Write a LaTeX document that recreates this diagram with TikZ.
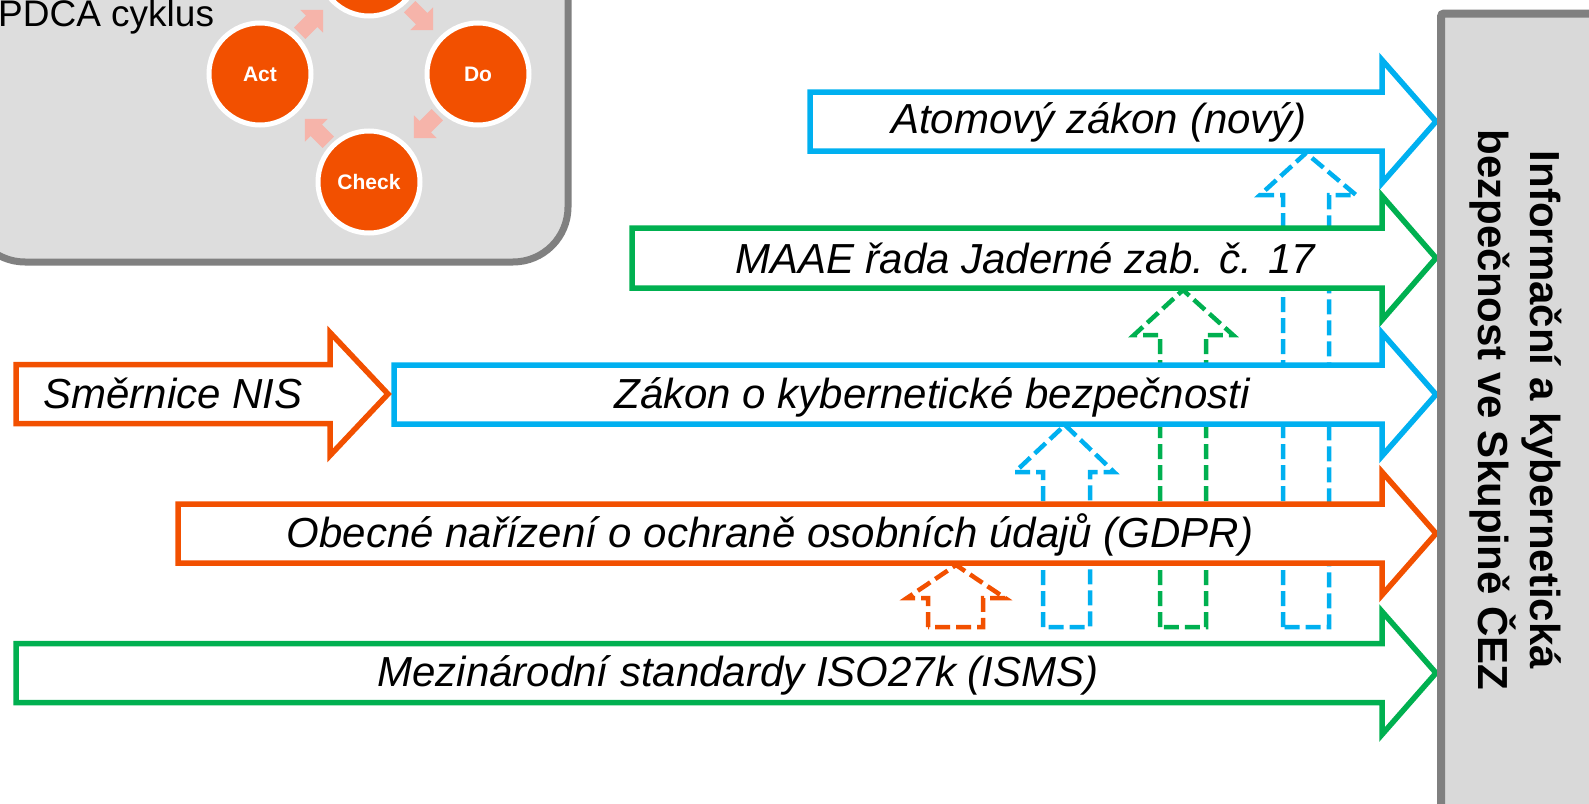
\documentclass[tikz,border=0pt]{standalone}
\usepackage{fontspec}
\setmainfont{Liberation Sans}

\definecolor{cezorange}{RGB}{242,80,0}
\definecolor{cezblue}{RGB}{0,176,240}
\definecolor{cezgreen}{RGB}{0,176,80}
\definecolor{cycpink}{RGB}{246,180,170}
\definecolor{panelgray}{RGB}{221,221,221}
\definecolor{boxgray}{RGB}{217,217,217}
\definecolor{edgegray}{RGB}{128,128,128}

\begin{document}
\begin{tikzpicture}[
  x = 1pt, y = 1pt,            % one unit = one pixel of the slide
  line join = miter            % sharp corners on the arrows
  ]

  \tikzstyle{Law}=[      % Defines style for the big law arrows
  fill = white,
  line width = 5.5pt
  ]

  \tikzstyle{Up}=[       % Defines style for the dashed up arrows
  line width = 4.5pt,
  dash pattern = on 15pt off 6pt
  ]

  \tikzstyle{Lbl}=[      % Text on a law arrow
  anchor = base,
  inner sep = 0pt,
  font = \fontsize{42}{50}\selectfont\itshape
  ]

  \tikzstyle{Phase}=[    % Defines style for the PDCA circles
  circle,
  fill = cezorange,
  draw = white,
  line width = 5pt,
  minimum size = 102pt,
  text = white,
  font = \fontsize{21}{25}\selectfont\bfseries
  ]

  \tikzstyle{Title}=[    % text in the grey box
  rotate = -90,
  anchor = base,
  inner sep = 0pt,
  font = \fontsize{42}{50}\selectfont\bfseries
  ]

  % small arrow between two circles, pointing along +x before rotation
  \tikzset{turn/.pic={
    \fill[cycpink] (-16,-8) -- (1,-8) -- (1,-16) -- (17,0) -- (1,16) -- (1,8) -- (-16,8) -- cycle;
  }}

  \useasboundingbox (0,0) rectangle (1589,-803);
  \clip (0,0) rectangle (1589,-803);

  % PDCA panel
  \draw[fill = panelgray, draw = edgegray, line width = 7pt, rounded corners = 55pt]
    (-30,60) rectangle (568,-262);
  \node (pdca) [anchor = base west, inner sep = 0pt, font = \fontsize{37}{40}\selectfont]
    at (-2,-27) {PDCA cyklus};

  \node[Phase] (plan) at (369,35) {};
  \node[Phase] (act) at (260,-74) {Act};
  \node[Phase] (do) at (478,-74) {Do};
  \node[Phase] (check) at (369,-182) {Check};

  \pic[rotate = 45] (actplan) at (311,-22) {turn};
  \pic[rotate = -45] (plando) at (421,-18) {turn};
  \pic[rotate = -135] (docheck) at (426,-126) {turn};
  \pic[rotate = 135] (checkact) at (317,-131) {turn};

  % dashed arrows (behind the law arrows)
  \draw[Up, cezorange] (928,-627) -- (928,-598) -- (907,-598) -- (956,-565)
    -- (1005,-598) -- (983,-598) -- (983,-627) -- cycle;
  \draw[Up, cezblue] (1043,-627) -- (1043,-472) -- (1015,-472) -- (1065,-425)
    -- (1114,-472) -- (1090,-472) -- (1090,-627) -- cycle;
  \draw[Up, cezgreen] (1160,-627) -- (1160,-335) -- (1134,-335) -- (1183,-290)
    -- (1233,-335) -- (1206,-335) -- (1206,-627) -- cycle;
  \draw[Up, cezblue] (1283,-627) -- (1283,-195) -- (1260,-195) -- (1306,-153)
    -- (1356,-195) -- (1329,-195) -- (1329,-627) -- cycle;

  % law arrows
  \draw[Law, draw = cezblue] (810,-92) -| (1382,-60) -- (1436,-121.5) -- (1382,-183) |- (810,-151) -- cycle;
  \draw[Law, draw = cezgreen] (632,-228) -| (1382,-196) -- (1436,-258) -- (1382,-320) |- (632,-288) -- cycle;
  \draw[Law, draw = cezblue] (394,-365) -| (1382,-333) -- (1436,-394.5) -- (1382,-456) |- (394,-424) -- cycle;
  \draw[Law, draw = cezorange] (16,-364.5) -| (330,-332.5) -- (388,-394) -- (330,-455.5) |- (16,-423.5) -- cycle;
  \draw[Law, draw = cezorange] (178,-504) -| (1382,-472) -- (1436,-533.5) -- (1382,-595) |- (178,-563) -- cycle;
  \draw[Law, draw = cezgreen] (16,-643.5) -| (1382,-611.5) -- (1436,-673) -- (1382,-734.5) |- (16,-702.5) -- cycle;

  \node[Lbl] (atom) at (1099,-133) {Atomový zákon (nový)};
  \node[Lbl] (maae) at (1025,-273) {MAAE řada Jaderné zab. č. 17};
  \node[Lbl] (zkb) at (932,-408) {Zákon o kybernetické bezpečnosti};
  \node[Lbl] (nis) at (173,-408) {Směrnice NIS};
  \node[Lbl] (gdpr) at (770,-547) {Obecné nařízení o ochraně osobních údajů (GDPR)};
  \node[Lbl] (isms) at (738,-686) {Mezinárodní standardy ISO27k (ISMS)};

  % grey target box
  \draw[fill = boxgray, draw = edgegray, line width = 8pt, rounded corners = 3pt]
    (1441,-13.5) rectangle (1620,-830);
  \node[Title] (cezA) at (1530,-410) {Informační a kybernetická};
  \node[Title] (cezB) at (1478,-410) {bezpečnost ve Skupině ČEZ};
\end{tikzpicture}
\end{document}
